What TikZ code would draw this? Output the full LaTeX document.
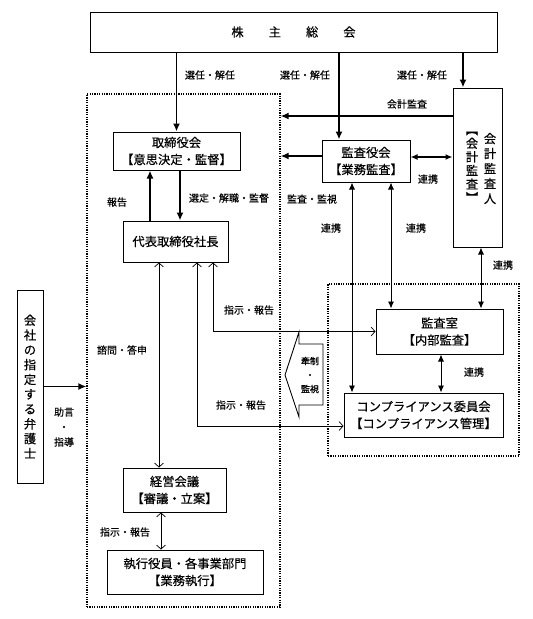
\documentclass[tikz,border=0pt]{standalone}
\usepackage{fontspec}
\setmainfont{Noto Sans CJK JP}[FakeBold=0.3]
\newfontfamily\boldjp[FakeBold=1.5]{Noto Sans CJK JP}
\usetikzlibrary{arrows.meta}
\tikzset{
    box/.style={rectangle, draw=black, line width=1pt, text centered, align=center, inner sep=0pt, font=\fontsize{12.3}{17}\selectfont},
    tate/.style={align=center, inner sep=0pt, font=\fontsize{12.3}{15}\selectfont},
    lbl/.style={inner sep=0pt, font=\fontsize{10}{15}\selectfont},
    group/.style={rectangle, draw=black, line width=1.2pt, dash pattern=on 1.2pt off 1.2pt, inner sep=0pt},
    arrow/.style={line width=1.6pt, -{Latex[length=8pt,width=7pt]}},
    link/.style={line width=0.9pt, {Latex[length=7pt,width=6pt]}-{Latex[length=7pt,width=6pt]}},
    openlink/.style={line width=0.7pt, {Straight Barb[length=4pt,width=9pt]}-{Straight Barb[length=4pt,width=9pt]}}
}

\begin{document}
\begin{tikzpicture}[x=1pt, y=-1pt]
    \useasboundingbox (0,0) rectangle (533,619);
    % Groups
    \node (ingrp) [group, minimum width=193pt, minimum height=513pt] at (183.5,350.5) {};
    \node (audgrp) [group, minimum width=191pt, minimum height=172pt] at (423.5,370) {};
    % Nodes
    \node (gm) [box, minimum width=407pt, minimum height=40pt] at (293.5,32) {株\hspace{25pt}主\hspace{25pt}総\hspace{25pt}会};
    \node (board) [box, minimum width=127pt, minimum height=38pt] at (176.5,151) {取締役会\\【意思決定・監督】};
    \node (pres) [box, minimum width=105pt, minimum height=41pt] at (175.5,241.5) {代表取締役社長};
    \node (mgmt) [box, minimum width=103pt, minimum height=44pt] at (174.5,490) {経営会議\\【審議・立案】};
    \node (exec) [box, minimum width=156pt, minimum height=44pt] at (185,572) {執行役員・各事業部門\\【業務執行】};
    \node (kansa) [box, minimum width=88pt, minimum height=42pt] at (366,161) {監査役会\\【業務監査】};
    \node (auditor) [box, minimum width=49pt, minimum height=159pt] at (477.5,167.5) {};
    \node (audname) [tate] at (490,168.5) {会\\計\\監\\査\\人};
    \node (audrole) [tate, font=\fontsize{12.3}{13.6}\selectfont] at (472,167) {︻\\会\\計\\監\\査\\︼};
    \node (naibu) [box, minimum width=127pt, minimum height=45pt] at (439.5,331.5) {監査室\\【内部監査】};
    \node (comp) [box, minimum width=159pt, minimum height=44pt] at (423.5,415) {コンプライアンス委員会\\【コンプライアンス管理】};
    \node (lawyer) [box, minimum width=26pt, minimum height=193pt, font=\fontsize{12.3}{14.8}\selectfont] at (30,386.5) {会\\社\\の\\指\\定\\す\\る\\弁\\護\\士};
    % Arrows
    \coordinate (kin) at ([xshift=-27pt]kansa.north);
    \coordinate (ain) at ([xshift=-14.5pt]auditor.north);
    \draw [arrow] (gm.south -| board.north) -- (board.north);
    \draw [arrow] (gm.south -| kin) -- (kin);
    \draw [arrow] (gm.south -| ain) -- (ain);
    \coordinate (aout) at ([yshift=51.5pt]auditor.west);
    \coordinate (kout) at ([yshift=5pt]kansa.west);
    \draw [arrow] (aout) -- (aout -| ingrp.east);
    \draw [arrow] (kout) -- (kout -| ingrp.east);
    \coordinate (kright) at ([yshift=4pt]kansa.east);
    \draw [link, line width=1.3pt] (kright) -- (kright -| auditor.west);
    \coordinate (rep) at ([xshift=-25.5pt]pres.north);
    \coordinate (sel) at ([xshift=3.5pt]board.south);
    \draw [arrow] (rep) -- (rep |- board.south);
    \draw [arrow] (sel) -- (sel |- pres.north);
    \coordinate (k1) at ([xshift=-14pt]kansa.south);
    \coordinate (k2) at ([xshift=25pt]kansa.south);
    \coordinate (a1) at ([xshift=3.5pt]auditor.south);
    \coordinate (n1) at ([xshift=1.5pt]naibu.south);
    \draw [link] (k1) -- (k1 |- comp.north);
    \draw [link] (k2) -- (k2 |- naibu.north);
    \draw [link] (a1) -- (a1 |- naibu.north);
    \draw [link] (n1) -- (n1 |- comp.north);
    \coordinate (p1) at ([xshift=-16.5pt]pres.south);
    \coordinate (m1) at ([xshift=-13.5pt]mgmt.south);
    \draw [openlink] (p1) -- (p1 |- mgmt.north);
    \draw [openlink] ([xshift=37.5pt]pres.south) |- (naibu.west);
    \draw [openlink] ([xshift=21.5pt]pres.south) |- ([yshift=-11pt]comp.west);
    \draw [openlink] (m1) -- (m1 |- exec.north);
    \draw [arrow] (lawyer.east) -- (lawyer.east -| ingrp.west);
    % Check arrow
    \draw [line width=0.9pt, fill=white] (285,375) -- (299,332) -- (299,344) -- (323,344) -- (323,405) -- (299,405) -- (299,417) -- cycle;
    \node (check) [align=center, inner sep=0pt, font=\boldjp\fontsize{9}{14}\selectfont] at (310,375) {牽制\\・\\監視};
    % Labels
    \node (lsen1) [lbl] at (210,75) {選任・解任};
    \node (lsen2) [lbl] at (305,75) {選任・解任};
    \node (lsen3) [lbl] at (422,75) {選任・解任};
    \node (lacc) [lbl] at (407,104) {会計監査};
    \node (lrep) [lbl] at (117,202) {報告};
    \node (lsel) [lbl] at (229,198) {選定・解職・監督};
    \node (lmon) [lbl] at (312,199) {監査・監視};
    \node (llink1) [lbl] at (428,179) {連携};
    \node (llink2) [lbl] at (331,228) {連携};
    \node (llink3) [lbl] at (416,228) {連携};
    \node (llink4) [lbl] at (503,265) {連携};
    \node (llink5) [lbl] at (474,372) {連携};
    \node (lcons) [lbl] at (122,350) {諮問・答申};
    \node (linst1) [lbl] at (249,310) {指示・報告};
    \node (linst2) [lbl] at (241,405) {指示・報告};
    \node (linst3) [lbl] at (125,532) {指示・報告};
    \node (ladv) [lbl, align=center] at (64,427) {助言\\・\\指導};
\end{tikzpicture}
\end{document}
